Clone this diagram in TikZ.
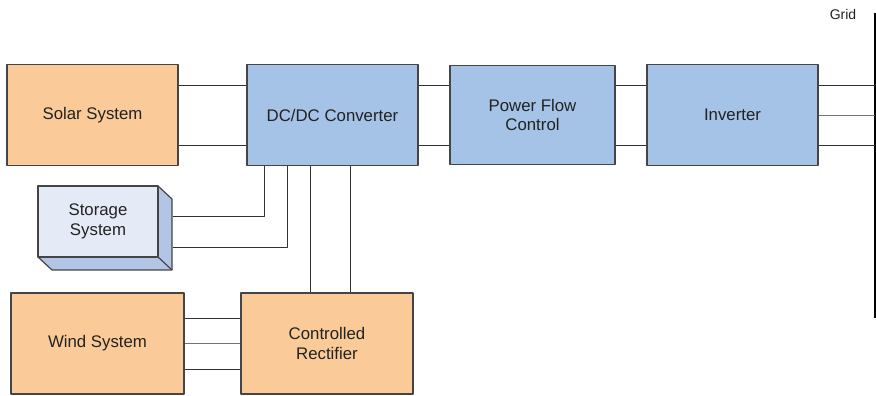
\documentclass[tikz,border=0pt]{standalone}
\usepackage{fontspec}
\setmainfont{Liberation Sans}
\definecolor{boxorange}{HTML}{FACB98}
\definecolor{boxblue}{HTML}{A4C3E6}
\definecolor{storefront}{HTML}{E5EBF6}
\definecolor{storeside}{HTML}{B2C5E4}
\definecolor{edgegray}{HTML}{454545}
\definecolor{textgray}{HTML}{222222}

\begin{document}
\begin{tikzpicture}[x=1pt,y=1pt,line join=round,
  blk/.style={draw=edgegray, line width=1.2pt, minimum width=171pt, minimum height=101pt,
    inner sep=0pt, align=center, text=textgray, font=\fontsize{16.8}{19.5}\selectfont},
  srcblk/.style={blk, fill=boxorange},
  cnvblk/.style={blk, fill=boxblue},
  wire/.style={draw=black!80, line width=0.9pt}]
\useasboundingbox (0,0) rectangle (876,396);
\node[srcblk] (solar) at (92.5,281) {Solar System};
\node[cnvblk] (dc) at (332.5,281) {DC/DC Converter};
\node[cnvblk, minimum width=165pt, minimum height=99pt] (pfc) at (532.5,281) {Power Flow\\Control};
\node[cnvblk] (inv) at (732.5,281) {Inverter};
\node[srcblk, minimum width=173pt] (wind) at (97.5,52.5) {Wind System};
\node[srcblk, minimum width=172pt] (rect) at (327,52.5) {Controlled\\Rectifier};
% storage box with depth
\fill[storeside, draw=edgegray, line width=1.2pt] (38,210) -- (158,210) -- (172,197) -- (172,126) -- (52,126) -- (38,139) -- cycle;
\draw[edgegray, line width=1.2pt] (158,139) -- (172,126);
\node[blk, fill=storefront, minimum width=120pt, minimum height=71pt] (store) at (98,174.5) {Storage\\System};
% grid bus
\coordinate (gridtop) at (875,383);
\coordinate (gridbot) at (875,78);
\draw[black, line width=1.3pt] (gridtop) -- (gridbot);
\node[text=textgray, font=\fontsize{14}{16}\selectfont] (gridlbl) at (843,381) {Grid};
% connections
\draw[wire] ([yshift=30pt]solar.east) -- ([yshift=30pt]solar.east -| dc.west);
\draw[wire] ([yshift=-30pt]solar.east) -- ([yshift=-30pt]solar.east -| dc.west);
\draw[wire] ([yshift=30pt]dc.east) -- ([yshift=30pt]dc.east -| pfc.west);
\draw[wire] ([yshift=-30pt]dc.east) -- ([yshift=-30pt]dc.east -| pfc.west);
\draw[wire] ([yshift=30pt]pfc.east) -- ([yshift=30pt]pfc.east -| inv.west);
\draw[wire] ([yshift=-30pt]pfc.east) -- ([yshift=-30pt]pfc.east -| inv.west);
\draw[wire] ([yshift=30pt]inv.east) -- ([yshift=30pt]inv.east -| gridtop);
\draw[wire, draw=black!55] (inv.east) -- (inv.east -| gridtop);
\draw[wire] ([yshift=-30pt]inv.east) -- ([yshift=-30pt]inv.east -| gridtop);
\draw[wire] ([shift={(14pt,5.5pt)}]store.east) -| ([xshift=-68.5pt]dc.south);
\draw[wire] ([shift={(14pt,-25.5pt)}]store.east) -| ([xshift=-45.5pt]dc.south);
\draw[wire] ([xshift=-17pt]rect.north) -- ([xshift=-17pt]rect.north |- dc.south);
\draw[wire] ([xshift=23pt]rect.north) -- ([xshift=23pt]rect.north |- dc.south);
\draw[wire] ([yshift=25.5pt]wind.east) -- ([yshift=25.5pt]wind.east -| rect.west);
\draw[wire, draw=black!55] (wind.east) -- (wind.east -| rect.west);
\draw[wire] ([yshift=-25.5pt]wind.east) -- ([yshift=-25.5pt]wind.east -| rect.west);
\end{tikzpicture}
\end{document}
